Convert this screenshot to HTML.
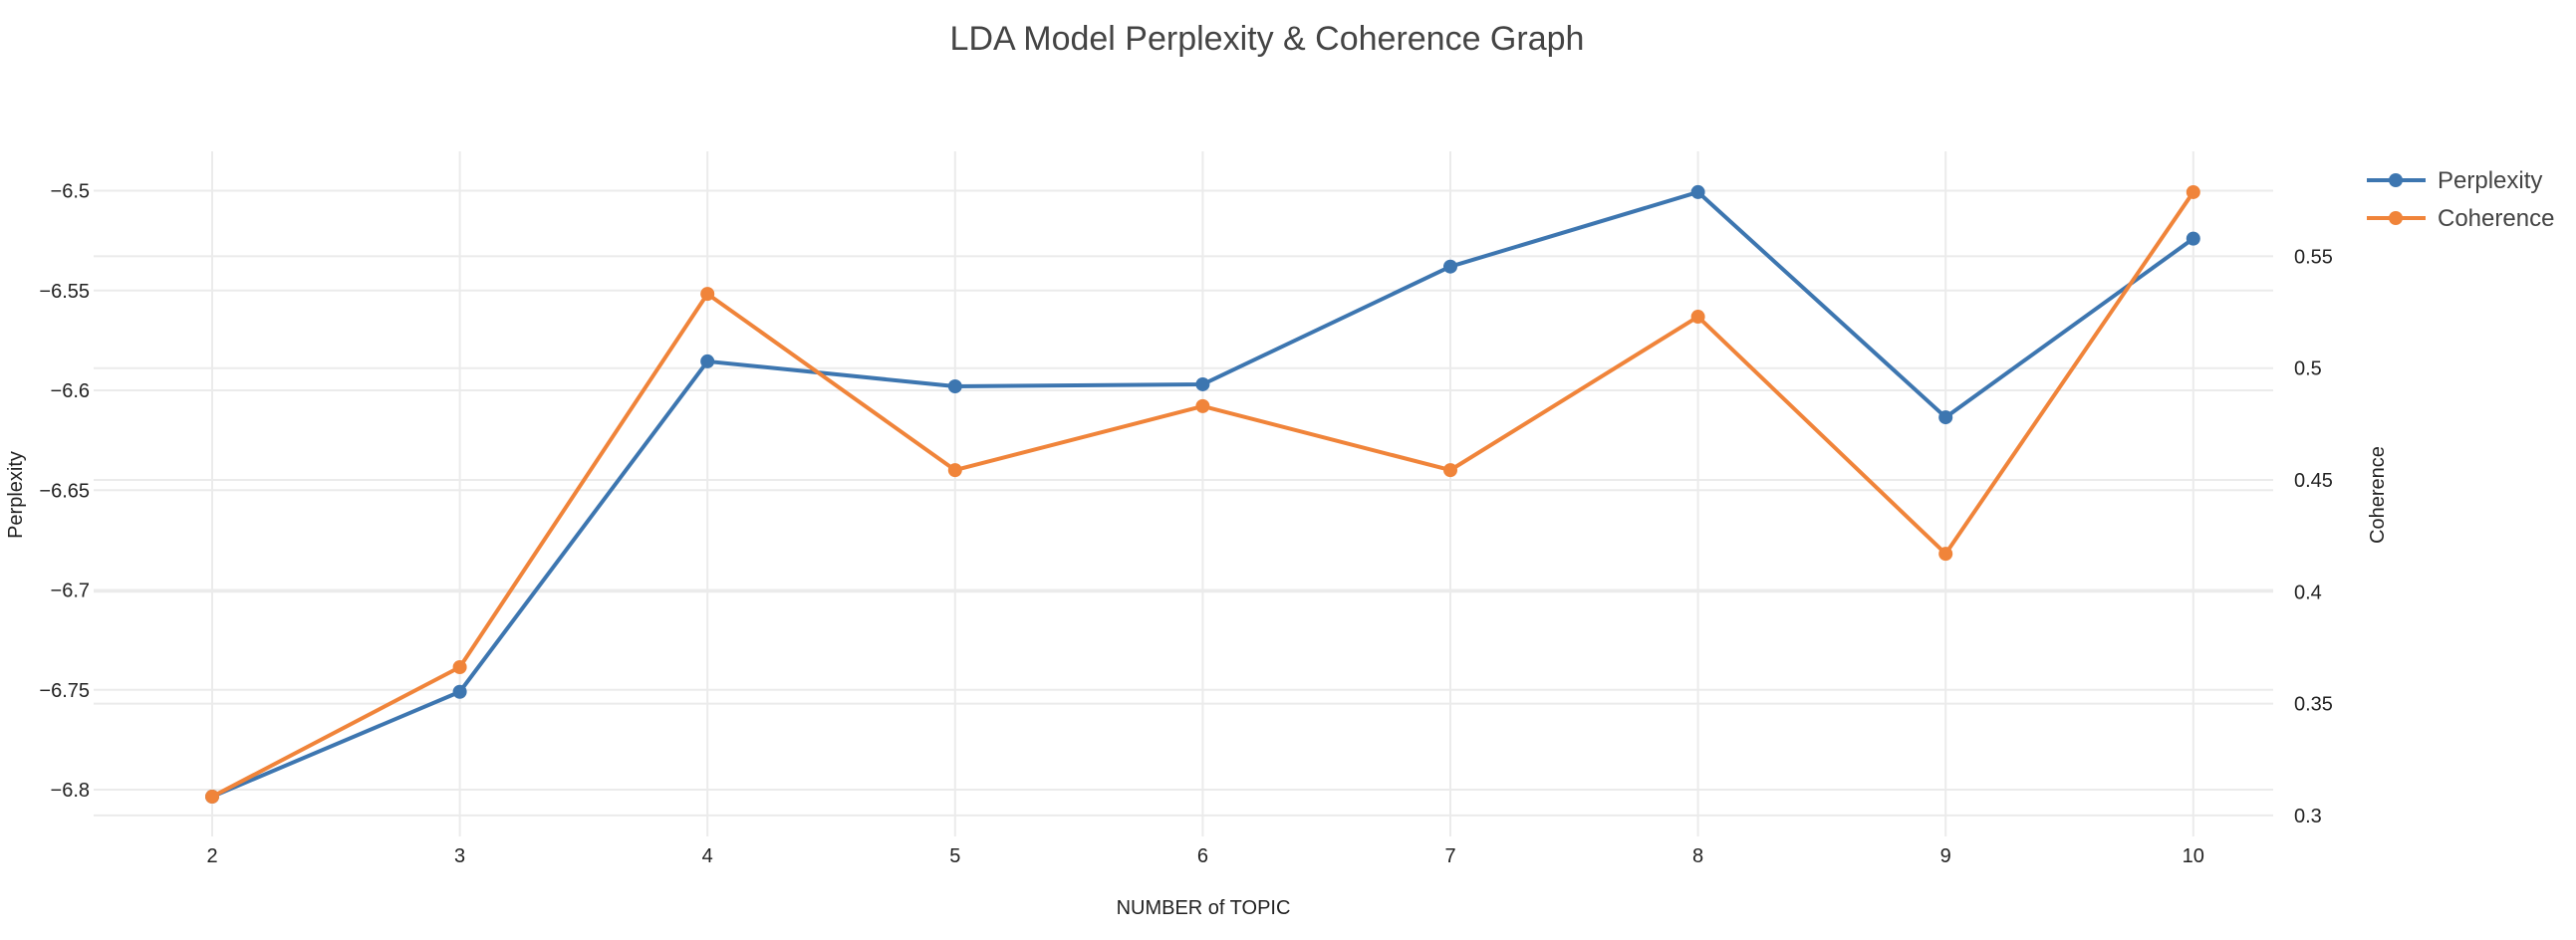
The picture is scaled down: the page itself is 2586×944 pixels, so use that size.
<!DOCTYPE html>
<html><head><meta charset="utf-8">
<style>
html,body{margin:0;padding:0;background:#fff;}
svg{display:block;font-family:"Liberation Sans","DejaVu Sans",sans-serif;}
</style></head>
<body>
<svg id="chart" width="2586" height="944" viewBox="0 0 2586 944" xmlns="http://www.w3.org/2000/svg">
<text x="1272" y="50" text-anchor="middle" font-size="34" fill="#444">LDA Model Perplexity &amp; Coherence Graph</text>
<g id="grid"></g>
<g id="axes"></g>
<g id="series"></g>
<text x="1208" y="918" text-anchor="middle" font-size="20" fill="#222">NUMBER of TOPIC</text>
<text transform="translate(22,497) rotate(-90)" text-anchor="middle" font-size="20" fill="#222">Perplexity</text>
<text transform="translate(2393,497) rotate(-90)" text-anchor="middle" font-size="20" fill="#222">Coherence</text>
<g>
  <g>
    <line x1="2376" y1="181" x2="2435" y2="181" stroke="#3d76b0" stroke-width="4"/>
    <circle cx="2405" cy="181" r="7" fill="#3d76b0"/>
    <text x="2447" y="189" font-size="24" fill="#444">Perplexity</text>
  </g>
  <g>
    <line x1="2376" y1="219" x2="2435" y2="219" stroke="#f0843a" stroke-width="4"/>
    <circle cx="2405" cy="219" r="7" fill="#f0843a"/>
    <text x="2447" y="227" font-size="24" fill="#444">Coherence</text>
  </g>
</g>
</svg>
<script>
const topics = [2,3,4,5,6,7,8,9,10];
const perplexity = [-6.8035,-6.751,-6.5855,-6.598,-6.597,-6.538,-6.5007,-6.6135,-6.524];
const coherence = [0.3084,0.3663,0.5332,0.4544,0.483,0.4544,0.523,0.417,0.5787];
const xTicks = [2,3,4,5,6,7,8,9,10];
const leftTicks = [-6.5,-6.55,-6.6,-6.65,-6.7,-6.75,-6.8];
const leftTickLabels = ["\u22126.5","\u22126.55","\u22126.6","\u22126.65","\u22126.7","\u22126.75","\u22126.8"];
const rightTicks = [0.55,0.5,0.45,0.4,0.35,0.3];
const rightTickLabels = ["0.55","0.5","0.45","0.4","0.35","0.3"];

const NS="http://www.w3.org/2000/svg";
const plotL=94, plotR=2282, plotT=152, plotB=840;
function xs(v){return 213+(v-2)*248.6;}
function yl(v){return 191.5+(-6.5-v)/0.05*100.25;}
function yr(v){return 257.4+(0.55-v)/0.05*112.3;}
function mk(tag,attrs,parent){const e=document.createElementNS(NS,tag);for(const k in attrs)e.setAttribute(k,attrs[k]);parent.appendChild(e);return e;}
const grid=document.getElementById('grid'), axes=document.getElementById('axes'), series=document.getElementById('series');

xTicks.forEach((t,i)=>{
  const g=mk('line',{x1:xs(t),x2:xs(t),y1:plotT,y2:plotB,stroke:'#ebebeb','stroke-width':2},grid);
  
  
  const l=mk('text',{x:xs(t),y:866,'text-anchor':'middle','font-size':20,fill:'#222'},axes);
  l.textContent=String(t);
  
  
});
leftTicks.forEach((t,i)=>{
  const g=mk('line',{x1:plotL,x2:plotR,y1:yl(t),y2:yl(t),stroke:'#ebebeb','stroke-width':2},grid);
  
  
  const l=mk('text',{x:90,y:yl(t)+7,'text-anchor':'end','font-size':20,fill:'#222'},axes);
  l.textContent=leftTickLabels[i];
  
  
});
rightTicks.forEach((t,i)=>{
  const g=mk('line',{x1:plotL,x2:plotR,y1:yr(t),y2:yr(t),stroke:'#ebebeb','stroke-width':2},grid);
  
  
  const l=mk('text',{x:2303,y:yr(t)+7,'text-anchor':'start','font-size':20,fill:'#222'},axes);
  l.textContent=rightTickLabels[i];
  
  
});
function draw(vals,yf,color,name){
  const pts=topics.map((t,i)=>xs(t)+','+yf(vals[i])).join(' ');
  const pl=mk('polyline',{points:pts,fill:'none',stroke:color,'stroke-width':4,'stroke-linejoin':'round'},series);
  
  
  topics.forEach((t,i)=>{
    const c=mk('circle',{cx:xs(t),cy:yf(vals[i]),r:7,fill:color},series);
    
    
  });
}
draw(perplexity,yl,'#3d76b0','perplexity');
draw(coherence,yr,'#f0843a','coherence');
</script>
</body></html>
